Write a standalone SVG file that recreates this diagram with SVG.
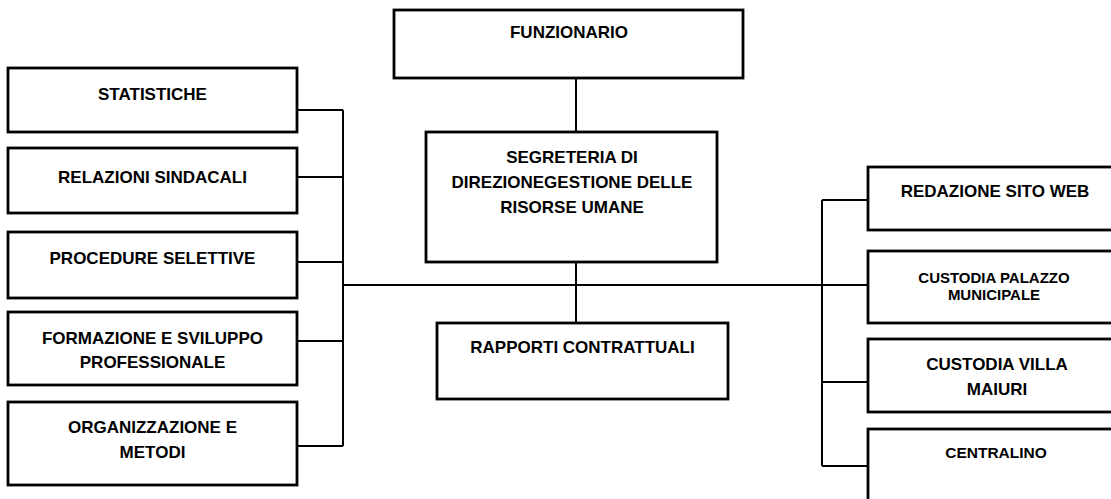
<svg xmlns="http://www.w3.org/2000/svg" width="1111" height="499" viewBox="0 0 1111 499">
<style>
.box{fill:#fff;stroke:#000;stroke-width:2.8}
.t{font-family:"Liberation Sans",Arial,sans-serif;font-weight:bold;font-size:17px;fill:#000;text-anchor:middle}
.s{font-size:15px}
.m{font-size:15.5px}
.c{fill:none;stroke:#000;stroke-width:2}
</style>
<rect width="1111" height="499" fill="#fff"/>
<g id="connectors">
<path class="c" d="M576 78V132M576 262V323"/>
<path class="c" d="M297 110H343M297 177H343M297 262H343M297 341H343M297 446H343M343 110V446"/>
<path class="c" d="M343 285H868"/>
<path class="c" d="M822 200V466M822 200H868M822 382H868M822 466H868"/>
</g>
<g id="n-funzionario"><rect class="box" x="394" y="10" width="349" height="68"/><text class="t" x="569" y="38">FUNZIONARIO</text></g>
<g id="n-statistiche"><rect class="box" x="8" y="68" width="289" height="64"/><text class="t" x="152.5" y="100">STATISTICHE</text></g>
<g id="n-relazioni"><rect class="box" x="8" y="148" width="289" height="65"/><text class="t" x="152.5" y="183">RELAZIONI SINDACALI</text></g>
<g id="n-procedure"><rect class="box" x="8" y="232" width="289" height="66"/><text class="t" x="152.5" y="264">PROCEDURE SELETTIVE</text></g>
<g id="n-formazione"><rect class="box" x="8" y="312" width="289" height="73"/><text class="t" x="152.5" y="344">FORMAZIONE E SVILUPPO</text><text class="t" x="152.5" y="368">PROFESSIONALE</text></g>
<g id="n-organizzazione"><rect class="box" x="8" y="402" width="289" height="83"/><text class="t" x="152.5" y="433">ORGANIZZAZIONE E</text><text class="t" x="152.5" y="458">METODI</text></g>
<g id="n-segreteria"><rect class="box" x="426" y="132" width="291" height="130"/><text class="t" x="572" y="163">SEGRETERIA DI</text><text class="t" x="572" y="188">DIREZIONEGESTIONE DELLE</text><text class="t" x="572" y="213">RISORSE UMANE</text></g>
<g id="n-rapporti"><rect class="box" x="437" y="323" width="291" height="76"/><text class="t" x="582.5" y="353">RAPPORTI CONTRATTUALI</text></g>
<g id="n-redazione"><rect class="box" x="868" y="167" width="260" height="63"/><text class="t" x="995" y="197">REDAZIONE SITO WEB</text></g>
<g id="n-palazzo"><rect class="box" x="868" y="251" width="260" height="72"/><text class="t s" x="994" y="283">CUSTODIA PALAZZO</text><text class="t s" x="994" y="300">MUNICIPALE</text></g>
<g id="n-villa"><rect class="box" x="868" y="339" width="260" height="73"/><text class="t" x="997" y="370">CUSTODIA VILLA</text><text class="t" x="997" y="395">MAIURI</text></g>
<g id="n-centralino"><rect class="box" x="868" y="429" width="260" height="90"/><text class="t m" x="996" y="458">CENTRALINO</text></g>
</svg>
